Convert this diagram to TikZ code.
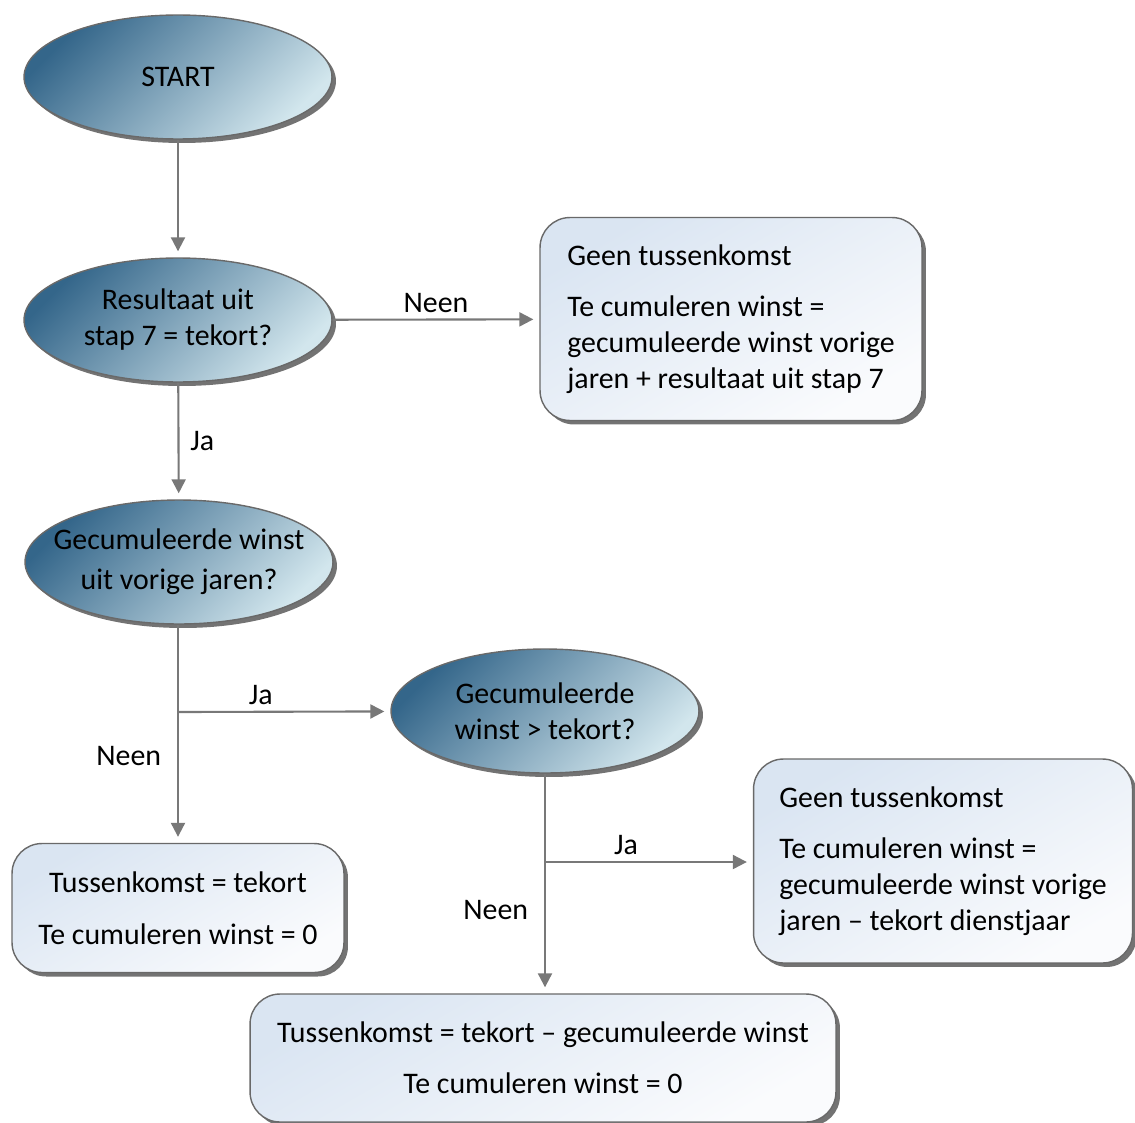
\documentclass[tikz,border=0pt]{standalone}
\usepackage{fontspec}
\setmainfont{Carlito}
\usepackage{xcolor}
\usetikzlibrary{shapes,arrows.meta,shadows,positioning}

\definecolor{ovaldark}{RGB}{52,102,138}
\definecolor{ovallight}{RGB}{210,230,237}
\definecolor{boxtop}{RGB}{218,229,242}
\definecolor{boxbottom}{RGB}{250,251,253}
\definecolor{rand}{RGB}{105,105,105}
\definecolor{lijn}{RGB}{120,120,120}

\begin{document}
\begin{tikzpicture}[x=0.02cm, y=-0.02cm, font=\fontsize{17}{20.5}\selectfont]
\tikzstyle{vraag} = [ellipse, draw=rand, line width=0.8pt, top color=ovaldark, bottom color=ovallight, shading angle=45, minimum width=6.16cm, minimum height=2.48cm, align=center, inner sep=0pt, drop shadow={shadow xshift=0.08cm, shadow yshift=-0.08cm, fill=black!55, opacity=1}]
\tikzstyle{uitkomst} = [rectangle, rounded corners=0.6cm, draw=rand, line width=0.8pt, top color=boxtop, bottom color=boxbottom, shading angle=30, inner sep=0pt, drop shadow={shadow xshift=0.08cm, shadow yshift=-0.08cm, fill=black!55, opacity=1}]
\tikzstyle{pijl} = [draw=lijn, line width=1.2pt, -{Triangle[length=0.28cm, width=0.28cm]}, shorten >=0.12cm]

\useasboundingbox (0,0) rectangle (1135,1122);

% vragen
\node [vraag] (start) at (178,77) {START};
\node [vraag] (resultaat) at (178,320) {Resultaat uit\\stap 7 = tekort?};
\node [vraag, inner xsep=-0.45cm] (gecumuleerd) at (179,562) {Gecumuleerde winst\\[0.08cm]uit vorige jaren?};
\node [vraag] (groter) at (545,711) {Gecumuleerde\\winst > tekort?};

% uitkomsten
\node [uitkomst, minimum width=7.64cm, minimum height=4.06cm, align=left] (geen1) at (731,319) {Geen tussenkomst\\[0.3cm]Te cumuleren winst =\\gecumuleerde winst vorige\\jaren + resultaat uit stap 7};
\node [uitkomst, minimum width=6.64cm, minimum height=2.58cm, align=center] (tekort) at (178,908) {Tussenkomst = tekort\\[0.32cm]Te cumuleren winst = 0};
\node [uitkomst, minimum width=7.58cm, minimum height=4.08cm, align=left] (geen2) at (943,861) {Geen tussenkomst\\[0.3cm]Te cumuleren winst =\\gecumuleerde winst vorige\\jaren -- tekort dienstjaar};
\node [uitkomst, minimum width=11.72cm, minimum height=2.56cm, align=center] (verschil) at (543,1058) {Tussenkomst = tekort -- gecumuleerde winst\\[0.3cm]Te cumuleren winst = 0};

\coordinate (splitsing1) at (178,712);
\coordinate (splitsing2) at (545,862);

% pijlen
\draw [pijl] (start) -- (resultaat);
\draw [pijl] (resultaat) -- (geen1) node[midway, above] {Neen};
\draw [pijl] (resultaat) -- (gecumuleerd) node[midway, right, xshift=0.1cm] {Ja};
\draw [pijl] (gecumuleerd.south -| splitsing1) -- (tekort.north -| splitsing1) node[pos=0.6, left, xshift=-0.2cm] {Neen};
\draw [pijl] (splitsing1) -- (groter) node[pos=0.39, above] {Ja};
\draw [pijl] (groter) -- (groter |- verschil.north) node[pos=0.62, left, xshift=-0.2cm] {Neen};
\draw [pijl] (splitsing2) -- (geen2.west |- splitsing2) node[pos=0.39, above] {Ja};

\end{tikzpicture}
\end{document}
